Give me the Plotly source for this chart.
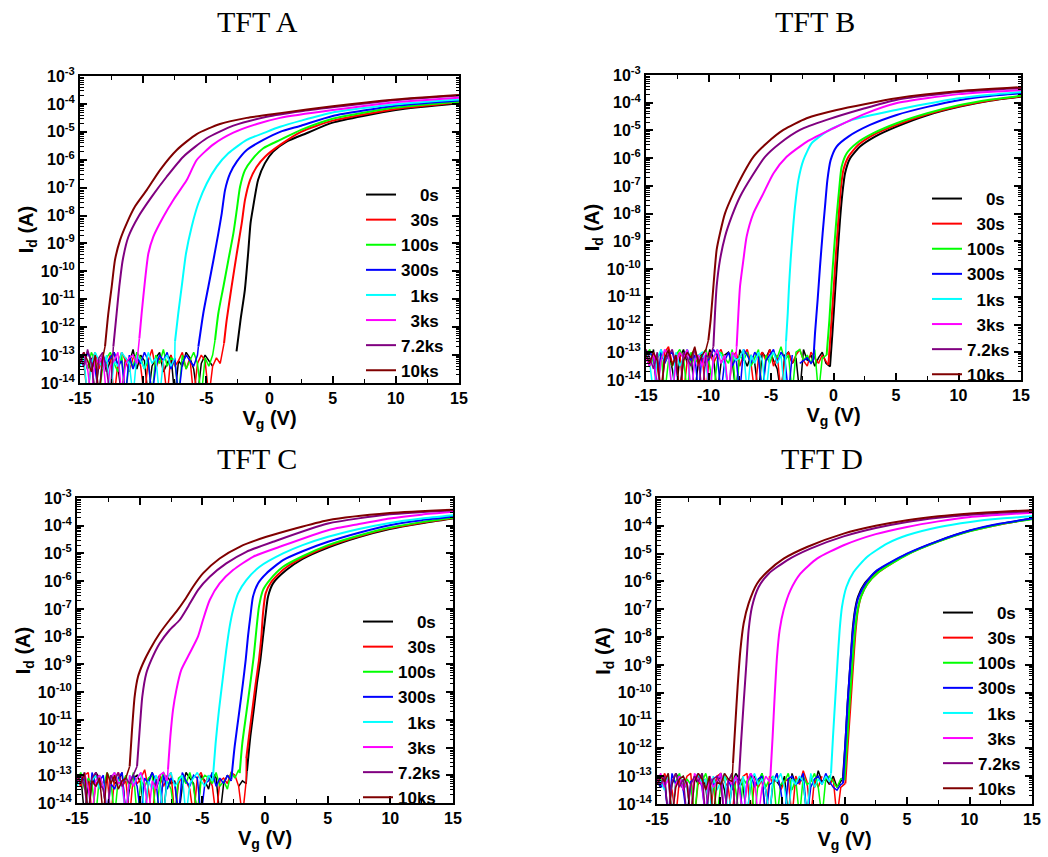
import plotly.graph_objects as go

# Bias-stress transfer curves (Id-Vg) of four TFTs, log10(Id) in A
LABELS = ["0s", "30s", "100s", "300s", "1ks", "3ks", "7.2ks", "10ks"]
COLORS = ["#000000", "#FF0000", "#00FF00", "#0000FF", "#00FFFF", "#FF00FF", "#800080", "#800000"]
TITLES = ["TFT A", "TFT B", "TFT C", "TFT D"]

# off-state sweep: first point at -15 V, 0.3 V per step, values are log10(Id)
NOISE_START = -15.0
NOISE_STEP = 0.3

# ---------------- TFT A ----------------
A_VG = [
    [-2.61, -2.29, -1.95, -1.69, -1.5, -1.29, -0.9, -0.37, 0.29, 1.35, 2.93, 5, 10, 15],
    [-3.6, -3.39, -3.0, -2.59, -2.2, -1.94, -1.54, -1.01, -0.35, 0.84, 2.5, 5, 10, 15],
    [-4.31, -4.05, -3.65, -3.26, -2.86, -2.59, -2.33, -1.94, -1.41, -0.49, 0.84, 2.5, 5, 10, 15],
    [-5.63, -5.24, -4.84, -4.44, -4.05, -3.78, -3.52, -3.12, -2.59, -1.8, -0.49, 0.84, 2.5, 5, 10, 15],
    [-7.48, -7.22, -6.95, -6.61, -6.16, -5.63, -4.97, -4.18, -3.26, -1.8, -0.22, 0.84, 2.5, 5, 10, 15],
    [-10.3, -10.12, -9.85, -9.59, -9.2, -8.4, -7.61, -6.55, -5.76, -4.44, -2.86, -1.0, 0.84, 5, 10, 15],
    [-12.36, -12.1, -11.89, -11.62, -11.17, -10.38, -9.33, -8.14, -6.82, -4.97, -2.86, -0.22, 2.5, 5, 10, 15],
    [-13.02, -12.76, -12.49, -12.23, -11.83, -11.3, -10.65, -9.72, -8.67, -7.34, -5.76, -3.92, -1.8, 0.84, 5, 10, 15],
]
A_LOG = [
    [-12.87, -11.73, -10.66, -9.35, -8.27, -7.68, -6.72, -6.13, -5.71, -5.35, -5.05, -4.67, -4.22, -3.98],
    [-12.58, -11.75, -10.55, -9.36, -8.28, -7.44, -6.73, -6.25, -5.89, -5.47, -5.0, -4.6, -4.18, -3.95],
    [-12.46, -11.5, -10.55, -9.6, -8.64, -7.8, -6.97, -6.37, -6.01, -5.59, -5.29, -4.93, -4.53, -4.13, -3.92],
    [-12.7, -11.5, -10.55, -9.6, -8.64, -7.92, -7.09, -6.49, -6.07, -5.65, -5.29, -5.0, -4.78, -4.43, -4.07, -3.88],
    [-12.52, -11.5, -10.55, -9.36, -8.4, -7.56, -6.85, -6.25, -5.77, -5.29, -5.0, -4.82, -4.6, -4.31, -4.01, -3.84],
    [-12.4, -11.5, -10.31, -9.36, -8.76, -8.04, -7.44, -6.73, -6.01, -5.45, -5.03, -4.72, -4.5, -4.22, -3.94, -3.78],
    [-12.7, -11.5, -10.55, -9.6, -8.76, -8.04, -7.33, -6.61, -5.89, -5.23, -4.78, -4.46, -4.26, -4.12, -3.86, -3.7],
    [-12.7, -11.51, -10.55, -9.59, -8.88, -8.28, -7.68, -7.09, -6.37, -5.65, -5.08, -4.72, -4.5, -4.33, -4.08, -3.84, -3.68],
]
A_NOISE = [
    [-13.2, -12.9, -13.5, -13.1, -14.5, -13.3, -13.0, -13.6, -13.2, -12.9, -13.4, -14.5, -13.1, -13.3, -12.8, -13.5, -13.0, -13.2, -14.5,
     -13.4, -13.1, -12.9, -13.6, -13.3, -13.0, -14.5, -13.2, -13.4, -12.9, -13.1, -13.5, -14.5, -13.3, -13.0, -13.2, -13.4, None],
    [-13.0, -13.3, -14.5, -13.2, -12.9, -13.5, -13.1, -13.4, -13.0, -14.5, -13.3, -12.9, -13.2, -13.6, -13.1, -13.0, -13.4, -14.5, -13.2,
     -12.8, -13.5, -13.1, -13.3, -14.5, -13.0, -13.4, -13.2, -12.9, -13.5, -13.1, -14.5, -13.3, -13.0, -13.2, -14.5, -13.4, -13.1, -13.3],
    [-13.3, -13.0, -13.5, -12.9, -13.2, -14.5, -13.4, -13.1, -12.9, -13.3, -13.6, -13.0, -14.5, -13.2, -13.4, -12.9, -13.1, -13.5,
     -13.2, -14.5, -13.0, -13.3, -12.8, -13.4, -13.1, -13.2, -14.5, -13.0, -13.5, -13.2, -12.9, -13.3, -14.5, -13.1, -13.4, -13.0],
    [-13.1, -13.4, -12.9, -13.2, -13.5, -14.5, -13.0, -13.3, -13.1, -12.9, -13.4, -13.2, -14.5, -13.0, -13.5, -13.1, -13.3, -12.9,
     -13.2, -14.5, -13.4, -13.0, -13.2, -12.9, -13.5, -13.1, -14.5, -13.3, -13.0, -13.2, -13.4, -13.0],
    [-13.4, -13.1, -14.5, -13.3, -12.9, -13.2, -13.5, -13.0, -14.5, -13.2, -13.4, -12.9, -13.1, -13.3, -14.5, -13.0, -13.2, -13.5,
     -12.9, -13.3, -13.1, -14.5, -13.2, -13.0, -13.4, -13.1],
    [-13.2, -12.9, -13.5, -14.5, -13.1, -13.3, -13.0, -14.5, -13.4, -13.2, -12.9, -14.5, -13.3, -13.1, -13.0, -13.3],
    [-13.0, -13.4, -12.8, -13.3, -14.5, -13.1, -12.9, -13.5, -14.5],
    [-13.3, -12.9, -13.2, -13.6, -13.0, -14.5, -13.1],
]

# ---------------- TFT B ----------------
B_VG = [
    [-0.28, -0.09, 0.12, 0.33, 0.52, 0.71, 0.92, 1.32, 2.12, 3.32, 5.05, 7.5, 10.12, 12.5, 15],
    [-0.41, -0.23, -0.01, 0.2, 0.39, 0.57, 0.79, 1.19, 1.99, 3.19, 5.05, 7.5, 10.12, 12.5, 15],
    [-0.55, -0.33, -0.15, 0.04, 0.25, 0.47, 0.65, 1.05, 1.85, 3.19, 5.05, 7.5, 10.12, 12.5, 15],
    [-1.61, -1.48, -1.27, -1.08, -0.87, -0.68, -0.49, -0.23, 0.25, 1.19, 2.92, 5.05, 7.5, 10.12, 12.5, 15],
    [-3.8, -3.66, -3.56, -3.43, -3.27, -3.08, -2.81, -2.41, -1.74, -0.55, 1.5, 5, 7.5, 10, 12.5, 15],
    [-7.75, -7.61, -7.48, -7.21, -6.95, -6.41, -5.61, -4.81, -3.75, -2.15, -0.01, 2.5, 5, 10, 15],
    [-9.61, -9.48, -9.35, -9.08, -8.68, -8.15, -7.48, -6.55, -5.48, -4.28, -2.68, -0.55, 2.5, 5, 10, 15],
    [-10.01, -9.83, -9.61, -9.35, -9.08, -8.68, -8.01, -7.21, -6.41, -5.35, -4.01, -2.15, 0.25, 5.05, 10.12, 15],
]
B_LOG = [
    [-13.52, -12.32, -10.87, -9.43, -8.23, -7.27, -6.55, -6.01, -5.58, -5.22, -4.86, -4.45, -4.14, -3.93, -3.78],
    [-13.46, -12.32, -10.87, -9.43, -8.23, -7.15, -6.43, -5.95, -5.52, -5.16, -4.8, -4.42, -4.12, -3.92, -3.77],
    [-13.1, -11.84, -10.51, -9.31, -8.11, -7.03, -6.31, -5.83, -5.46, -5.1, -4.74, -4.38, -4.08, -3.89, -3.75],
    [-13.28, -12.32, -11.11, -9.91, -8.71, -7.75, -6.79, -6.07, -5.58, -5.22, -4.8, -4.44, -4.15, -3.9, -3.76, -3.66],
    [-12.62, -11.59, -10.63, -9.67, -8.71, -7.75, -6.79, -6.07, -5.46, -5.04, -4.62, -4.26, -4.04, -3.84, -3.71, -3.61],
    [-12.8, -11.59, -10.63, -9.67, -8.83, -7.99, -7.27, -6.55, -5.95, -5.41, -4.92, -4.4, -4.02, -3.69, -3.54],
    [-12.8, -11.59, -10.63, -9.67, -8.83, -8.11, -7.39, -6.67, -5.95, -5.46, -4.98, -4.62, -4.2, -3.9, -3.61, -3.47],
    [-12.56, -11.84, -10.63, -9.31, -8.71, -7.99, -7.27, -6.55, -5.95, -5.46, -4.98, -4.56, -4.26, -3.84, -3.58, -3.44],
]
B_NOISE = [
    [-13.2, -13.5, -12.9, -14.5, -13.1, -13.3, -13.0, -13.6, -14.5, -13.2, -12.9, -13.4, -13.1, -14.5, -13.3, -13.0, -13.5, -12.9,
     -13.2, -14.5, -13.4, -13.1, -13.0, -13.3, -14.5, -12.9, -13.2, -13.5, -13.1, -13.4, -14.5, -13.0, -13.2, -12.9, -13.3, -13.6,
     -14.5, -13.1, -13.0, -13.4, -13.2, -14.5, -12.9, -13.3, -13.1, -13.5, -13.2, -13.0, -13.4],
    [-12.9, -13.3, -13.1, -13.5, -14.5, -13.0, -12.8, -13.4, -13.2, -13.0, -14.5, -13.3, -13.1, -12.9, -13.5, -13.2, -14.5, -13.0,
     -13.4, -13.1, -12.9, -13.3, -14.5, -13.2, -13.0, -13.5, -13.1, -12.9, -13.4, -14.5, -13.2, -13.0, -13.3, -12.9, -13.5, -13.1,
     -14.5, -13.2, -13.0, -13.4, -13.1, -12.9, -13.3, -13.5, -13.0, -13.2, -13.4, -13.1, -13.3],
    [-13.1, -12.9, -13.4, -13.2, -13.0, -14.5, -13.3, -13.5, -13.1, -12.9, -13.2, -14.5, -13.0, -13.4, -13.2, -13.1, -12.9, -13.5,
     -14.5, -13.3, -13.0, -13.2, -13.4, -12.9, -14.5, -13.1, -13.3, -13.0, -13.5, -13.2, -12.9, -14.5, -13.1, -13.4, -13.0, -13.2,
     -12.8, -13.3, -13.1, -14.5, -13.0, -12.9, -13.3, -13.1, -13.4, -12.9, -14.5, -13.2],
    [-13.3, -13.0, -13.2, -14.5, -12.9, -13.4, -13.1, -13.0, -13.5, -14.5, -13.2, -12.9, -13.3, -13.1, -14.5, -13.0, -13.4, -13.2,
     -12.9, -13.1, -14.5, -13.3, -13.0, -13.5, -13.2, -14.5, -12.9, -13.1, -13.4, -13.0, -13.2, -14.5, -13.3, -13.1, -12.9, -13.4,
     -13.0, -13.2, -14.5, -13.1, None, -13.4, -13.3, -13.2, -13.4],
    [-13.0, -13.4, -14.5, -13.2, -12.9, -13.3, -13.1, -14.5, -13.0, -13.5, -13.2, -12.9, -14.5, -13.3, -13.1, -13.0, -13.4, -14.5,
     -13.2, -12.9, -13.1, -13.5, -14.5, -13.0, -13.3, -13.2, -12.9, -14.5, -13.1, -13.4, -13.0, -13.3, -14.5, -13.2, -13.0, -13.4,
     -13.1, -14.5],
    [-13.2, -13.5, -13.0, -14.5, -13.3, -12.9, -13.1, -14.5, -13.4, -13.0, -13.2, -12.9, -14.5, -13.3, -13.1, -13.5, -13.0, -14.5,
     -13.2, -12.9, -13.4, -13.1, -14.5, -13.0, -13.2],
    [-12.9, -13.2, -13.6, -13.0, -14.5, -13.3, -13.1, -12.9, -13.4, -14.5, -13.0, -13.2, -13.5, -12.9, -13.3, -14.5, -13.1, -13.2],
    [-13.1, -13.4, -13.0, -13.3, -14.5, -13.2, -12.9, -13.5, -13.1, -14.5, -13.3, -13.0, -13.2, -12.8, -13.4, -13.1, -12.9],
]

# ---------------- TFT C ----------------
C_VG = [
    [-1.44, -1.17, -0.9, -0.64, -0.37, -0.16, 0.03, 0.24, 0.64, 1.7, 3.0, 5.03, 7.5, 9.95, 12.5, 15],
    [-1.49, -1.28, -1.01, -0.74, -0.48, -0.29, -0.16, 0.05, 0.51, 1.57, 3.0, 5.03, 7.5, 9.95, 12.5, 15],
    [-2.02, -1.81, -1.49, -1.17, -0.9, -0.69, -0.48, -0.16, 0.37, 1.44, 3.0, 5.03, 7.5, 9.95, 12.5, 15],
    [-2.69, -2.42, -2.07, -1.76, -1.54, -1.36, -1.17, -0.96, -0.56, 0.11, 1.44, 3.0, 5.03, 7.5, 9.95, 12.5, 15],
    [-4.15, -3.94, -3.67, -3.35, -3.09, -2.82, -2.55, -2.15, -1.49, -0.43, 1.44, 3.0, 5.03, 7.5, 9.95, 12.5, 15],
    [-7.74, -7.55, -7.34, -7.07, -6.68, -6.01, -5.35, -4.95, -4.41, -3.62, -2.55, -0.96, 1.17, 5.03, 7.5, 9.95, 12.5, 15],
    [-10.21, -10.0, -9.79, -9.47, -9.07, -8.4, -7.61, -6.81, -6.14, -5.35, -4.41, -3.09, -1.49, 0.64, 5.03, 9.95, 15],
    [-10.8, -10.61, -10.4, -10.13, -9.73, -9.2, -8.4, -7.61, -7.07, -6.41, -5.74, -4.95, -3.62, -2.02, 0.11, 5.03, 9.95, 15],
]
C_LOG = [
    [-12.86, -11.6, -10.64, -9.68, -8.84, -8.0, -7.28, -6.56, -6.08, -5.6, -5.2, -4.79, -4.41, -4.12, -3.91, -3.74],
    [-12.38, -11.6, -10.64, -9.68, -8.84, -8.0, -7.16, -6.44, -6.02, -5.54, -5.15, -4.74, -4.38, -4.09, -3.89, -3.72],
    [-12.92, -11.84, -10.76, -9.68, -8.72, -7.76, -6.92, -6.32, -5.96, -5.48, -5.1, -4.7, -4.35, -4.07, -3.87, -3.71],
    [-13.16, -11.96, -10.76, -9.68, -8.84, -8.0, -7.28, -6.56, -6.08, -5.72, -5.24, -4.92, -4.58, -4.25, -3.98, -3.8, -3.68],
    [-13.04, -11.84, -10.64, -9.44, -8.48, -7.64, -7.04, -6.44, -5.96, -5.48, -5.0, -4.7, -4.4, -4.12, -3.9, -3.74, -3.62],
    [-12.8, -11.6, -10.64, -9.92, -9.2, -8.6, -8.0, -7.4, -6.68, -6.08, -5.6, -5.12, -4.76, -4.16, -3.94, -3.74, -3.6, -3.5],
    [-12.68, -11.36, -10.16, -9.32, -8.84, -8.24, -7.76, -7.4, -6.92, -6.32, -5.84, -5.36, -4.94, -4.58, -3.92, -3.59, -3.44],
    [-12.68, -11.36, -10.16, -9.44, -8.96, -8.48, -7.88, -7.4, -7.1, -6.68, -6.2, -5.72, -5.18, -4.76, -4.4, -3.8, -3.54, -3.42],
]
C_NOISE = [
    [-13.3, -13.0, -14.5, -13.2, -13.4, -12.9, -13.1, -13.5, -14.5, -13.0, -13.3, -13.2, -12.9, -14.5, -13.4, -13.1, -13.0, -13.3,
     -14.5, -13.2, -12.9, -13.5, -13.1, -14.5, -13.0, -13.3, -13.2, -14.5, -13.4, -12.9, -13.1, -13.3, -14.5, -13.0, -13.2, -13.5,
     -12.9, -13.1, -14.5, -13.3, -13.0, -13.2, None, -13.4, -13.2, -13.3],
    [-13.1, -13.4, -13.0, -12.9, -14.5, -13.3, -13.2, -13.5, -13.0, -14.5, -13.1, -12.9, -13.4, -13.2, -14.5, -13.0, -13.3, -13.1,
     -12.8, -13.5, -14.5, -13.2, -13.0, -13.4, -13.1, -12.9, -14.5, -13.3, -13.0, -13.2, -13.5, -14.5, -13.1, -12.9, -13.3, -13.0,
     -13.4, -14.5, -13.2, -13.1, -13.3, -12.9, -13.0, -13.4, -14.5, -13.2],
    [-13.2, -12.9, -13.5, -13.1, -13.3, -14.5, -13.0, -13.4, -12.9, -13.2, -14.5, -13.1, -13.3, -13.0, -13.5, -12.9, -14.5, -13.2,
     -13.4, -13.1, -13.0, -14.5, -13.3, -12.9, -13.2, -13.5, -14.5, -13.1, -13.0, -13.3, -12.9, -13.4, -14.5, -13.2, -13.0, -13.1,
     -13.3, -12.9, -13.4, -13.2, -13.5, -12.9, -13.1, -12.8],
    [-13.0, -13.3, -13.1, -14.5, -12.9, -13.4, -13.2, -13.0, -14.5, -13.3, -13.5, -13.1, -12.9, -14.5, -13.2, -13.0, -13.4, -14.5,
     -13.1, -13.3, -12.9, -13.2, -14.5, -13.0, -13.5, -13.1, -13.3, -14.5, -12.9, -13.2, -13.4, -13.0, -13.1, -14.5, -13.3, -13.2,
     -12.9, -13.4, -13.1, -13.3, -13.0, -13.2],
    [-13.4, -13.1, -12.9, -14.5, -13.2, -13.0, -13.5, -13.3, -14.5, -13.1, -12.9, -13.2, -13.4, -14.5, -13.0, -13.3, -13.1, -12.9,
     -14.5, -13.2, -13.5, -13.0, -13.3, -14.5, -13.1, -12.9, -13.4, -13.2, -13.0, -14.5, -13.3, -13.1, -12.9, -13.2, -13.4, -13.0,
     -13.2],
    [-13.1, -13.3, -12.9, -13.5, -14.5, -13.2, -13.0, -13.4, -14.5, -13.1, -12.9, -13.3, -13.2, -14.5, -13.0, -13.4, -13.1, -12.9,
     -13.3, -14.5, -13.2, -13.5, -13.0, -12.9, -13.2],
    [-13.2, -13.0, -13.4, -14.5, -13.1, -12.9, -13.3, -13.5, -14.5, -13.0, -13.2, -12.9, -13.4, -13.1, -13.3, -13.0],
    [-13.0, -13.3, -12.9, -14.5, -13.2, -13.4, -13.1, -14.5, -12.9, -13.3, -13.0, -13.5, -13.2, -13.1],
]

# ---------------- TFT D ----------------
D_VG = [
    [-0.12, 0.07, 0.25, 0.47, 0.65, 0.84, 1.08, 1.61, 2.6, 5, 7.5, 10.07, 12.5, 15],
    [0.07, 0.25, 0.47, 0.68, 0.87, 1.05, 1.32, 1.8, 2.73, 5, 7.5, 10.07, 12.5, 15],
    [0.0, 0.2, 0.41, 0.63, 0.84, 1.05, 1.32, 1.8, 2.73, 5, 7.5, 10.07, 12.5, 15],
    [-0.12, 0.07, 0.25, 0.47, 0.68, 0.87, 1.13, 1.67, 2.6, 5, 7.5, 10.07, 12.5, 15],
    [-1.08, -0.92, -0.73, -0.55, -0.39, -0.2, 0.15, 0.73, 1.8, 3.4, 5, 7.5, 10.07, 12.5, 15],
    [-5.93, -5.75, -5.59, -5.4, -5.19, -4.87, -4.33, -3.53, -2.2, -0.07, 2.5, 5, 7.5, 10.07, 12.5, 15],
    [-8.47, -8.28, -8.07, -7.85, -7.67, -7.4, -6.87, -6.07, -4.6, -2.73, -0.07, 2.5, 5, 7.5, 10.07, 12.5, 15],
    [-8.92, -8.73, -8.55, -8.33, -8.07, -7.67, -7.0, -6.2, -4.87, -3.0, -0.07, 2.5, 5, 7.5, 10.07, 12.5, 15],
]
D_LOG = [
    [-13.02, -11.82, -10.38, -8.95, -7.75, -7.03, -6.55, -6.08, -5.62, -5.02, -4.55, -4.17, -3.93, -3.75],
    [-13.26, -11.94, -10.5, -9.07, -7.87, -7.09, -6.55, -6.11, -5.66, -5.03, -4.56, -4.18, -3.94, -3.75],
    [-13.14, -11.82, -10.38, -8.95, -7.75, -7.03, -6.55, -6.11, -5.66, -5.04, -4.57, -4.19, -3.94, -3.76],
    [-13.26, -11.82, -10.38, -8.95, -7.75, -7.03, -6.55, -6.08, -5.6, -5.0, -4.54, -4.16, -3.92, -3.74],
    [-12.9, -11.58, -10.15, -8.83, -7.75, -6.91, -6.2, -5.66, -5.12, -4.64, -4.34, -4.05, -3.86, -3.74, -3.66],
    [-13.02, -11.58, -10.15, -8.71, -7.75, -7.03, -6.32, -5.72, -5.18, -4.7, -4.3, -4.04, -3.84, -3.68, -3.6, -3.53],
    [-13.26, -11.82, -10.38, -8.95, -7.75, -6.91, -6.2, -5.72, -5.24, -4.82, -4.38, -4.08, -3.86, -3.71, -3.6, -3.53, -3.48],
    [-12.54, -11.1, -9.79, -8.47, -7.51, -6.79, -6.08, -5.66, -5.18, -4.76, -4.28, -4.0, -3.8, -3.66, -3.56, -3.49, -3.44],
]
D_NOISE = [
    [-13.2, -13.4, -13.0, -14.5, -13.3, -12.9, -13.1, -13.5, -13.2, -14.5, -13.0, -13.3, -12.9, -13.4, -14.5, -13.1, -13.2, -13.0,
     -13.5, -14.5, -13.3, -12.9, -13.1, -13.4, -14.5, -13.2, -13.0, -13.3, -12.9, -13.5, -14.5, -13.1, -13.2, -13.4, -13.0, -14.5,
     -12.9, -13.3, -13.1, -13.2, -14.5, -13.0, -13.4, -12.8, -13.2, -13.1, -13.3, -13.0, -13.4, -13.2],
    [-13.0, -13.3, -12.9, -13.2, -13.5, -14.5, -13.1, -13.4, -13.0, -12.9, -14.5, -13.2, -13.3, -13.1, -14.5, -13.5, -13.0, -12.9,
     -13.2, -13.4, -14.5, -13.1, -13.3, -13.0, -12.9, -14.5, -13.2, -13.4, -13.1, -14.5, -13.0, -13.3, -12.9, -13.5, -13.2, -13.1,
     -14.5, -13.0, -13.3, -12.8, -13.2, -14.5, -13.1, -13.4, -13.0, None, -13.3, -13.1, -14.5, -13.4],
    [-13.3, -13.1, -13.4, -13.0, -14.5, -13.2, -12.9, -13.5, -13.1, -13.3, -14.5, -13.0, -13.2, -12.9, -13.4, -13.1, -14.5, -13.3,
     -13.0, -13.2, -12.9, -13.5, -14.5, -13.1, -13.3, -13.0, -14.5, -13.2, -12.9, -13.4, -13.1, -13.0, -14.5, -13.3, -13.2, -12.9,
     -13.5, -13.1, -14.5, -13.0, -13.3, -13.2, -12.9, -13.4, -14.5, -13.1, -13.0, -13.2, -13.4, -13.1],
    [-13.1, -13.4, -13.2, -14.5, -12.9, -13.3, -13.0, -13.5, -14.5, -13.2, -13.1, -12.9, -13.4, -14.5, -13.0, -13.3, -13.2, -12.9,
     -14.5, -13.1, -13.5, -13.0, -13.3, -14.5, -13.2, -12.9, -13.4, -13.1, -13.0, -14.5, -13.3, -13.2, -12.9, -13.5, -14.5, -13.1,
     -13.0, -13.3, -13.2, -12.9, -14.5, -13.4, -13.1, -13.0, -13.3, -12.9, -13.2, -13.4, -13.5, -13.3],
    [-13.0, -13.2, -13.5, -12.9, -14.5, -13.3, -13.1, -13.0, -13.4, -14.5, -13.2, -12.9, -13.3, -13.1, -14.5, -13.0, -13.5, -13.2,
     -12.9, -14.5, -13.3, -13.1, -13.4, -13.0, -14.5, -13.2, -12.9, -13.3, -13.1, -13.5, -14.5, -13.0, -13.2, -12.9, -13.4, -14.5,
     -13.1, -13.3, -13.0, -13.2, -14.5, -12.9, -13.4, -13.1, -13.3, -13.0, -13.2],
    [-13.2, -12.9, -13.4, -13.1, -14.5, -13.3, -13.0, -13.5, -13.2, -14.5, -12.9, -13.1, -13.3, -14.5, -13.0, -13.4, -13.2, -12.9,
     -14.5, -13.1, -13.3, -13.0, -13.5, -14.5, -13.2, -12.9, -13.1, -14.5, -13.4, -13.0, -13.2],
    [-13.1, -13.3, -13.0, -14.5, -13.2, -12.9, -13.4, -13.1, -14.5, -13.3, -13.0, -13.2, -12.9, -14.5, -13.4, -13.1, -13.0, -13.3,
     -14.5, -13.2, -12.9, -14.5],
    [-13.3, -13.0, -13.2, -12.9, -14.5, -13.4, -13.1, -13.0, -13.3, -14.5, -13.2, -12.9, -13.1, -13.5, -13.0, -14.5, -13.2, -13.3,
     -12.9, -13.1, -13.2],
]

PANELS = [(A_VG, A_LOG, A_NOISE), (B_VG, B_LOG, B_NOISE), (C_VG, C_LOG, C_NOISE), (D_VG, D_LOG, D_NOISE)]

W, H = 1048, 857
# plot-area boxes in pixels: left, right, top, bottom
BOXES = [(80, 459, 76, 383), (646, 1021, 75, 380), (77, 453, 498, 803), (657, 1032, 498, 804)]
TITLE_POS = [(257, 22), (815, 22), (257, 458), (822, 458)]
# legend top offset below each plot top, in pixels
LEGEND_DROP = [101, 106, 106, 97]

SANS = "Liberation Sans, Arial, sans-serif"
SERIF = "Liberation Serif, Times New Roman, serif"

fig = go.Figure()

for k, (vg_sets, log_sets, noise_sets) in enumerate(PANELS):
    sfx = "" if k == 0 else str(k + 1)
    xa, ya, lg = "x" + sfx, "y" + sfx, "legend" + sfx
    for i, (lab, col) in enumerate(zip(LABELS, COLORS)):
        vg, lgi, nz = vg_sets[i], log_sets[i], noise_sets[i]
        # off-state floor, joined to the first point of the turn-on branch
        nv, ni = [], []
        for j, val in enumerate(nz):
            v = NOISE_START + NOISE_STEP * j
            if v >= vg[0]:
                break
            nv.append(v)
            ni.append(None if val is None else 10 ** val)
        nv.append(vg[0])
        ni.append(10 ** lgi[0])
        fig.add_trace(go.Scatter(
            x=nv, y=ni, mode="lines", xaxis=xa, yaxis=ya,
            line=dict(color=col, width=1.5), showlegend=False,
            legendgroup=f"{k}-{lab}", hoverinfo="skip"))
        fig.add_trace(go.Scatter(
            x=vg, y=[10 ** v for v in lgi], mode="lines", xaxis=xa, yaxis=ya,
            line=dict(color=col, width=2, shape="spline", smoothing=0.6),
            name=lab.rjust(4, "\u2007"), legend=lg, legendgroup=f"{k}-{lab}"))

x_ticks = list(range(-15, 16, 5))
y_exp = list(range(-14, -2))
y_minor = [m * 10.0 ** e for e in range(-14, -3) for m in range(2, 10)]

layout = dict(
    width=W, height=H, margin=dict(l=0, r=0, t=0, b=0),
    paper_bgcolor="white", plot_bgcolor="white", showlegend=True,
    font=dict(family=SANS, color="black"),
)

annotations = []
for k, (l, r, t, b) in enumerate(BOXES):
    sfx = "" if k == 0 else str(k + 1)
    xdom = [l / W, r / W]
    ydom = [1 - b / H, 1 - t / H]
    common = dict(
        showline=True, linecolor="black", linewidth=2, mirror="ticks",
        ticks="inside", ticklen=7, tickwidth=1.5, tickcolor="black",
        showgrid=False, zeroline=False, automargin=False,
        tickfont=dict(family=SANS, size=16, color="black", weight="bold"),
    )
    layout["xaxis" + sfx] = dict(
        common, domain=xdom, anchor="y" + sfx, range=[-15, 15],
        tickmode="array", tickvals=x_ticks, ticktext=[f"{v:d}" for v in x_ticks],
        minor=dict(ticks="inside", ticklen=4, tickwidth=1.2, tickcolor="black",
                   tickmode="linear", tick0=-15, dtick=2.5),
        title=dict(text="V<sub>g</sub> (V)", standoff=2,
                   font=dict(family=SANS, size=20, color="black", weight="bold")),
    )
    layout["yaxis" + sfx] = dict(
        common, domain=ydom, anchor="x" + sfx, type="log", range=[-14, -3],
        tickmode="array", tickvals=[10.0 ** e for e in y_exp],
        ticktext=[f"10<sup>{e}</sup>" for e in y_exp],
        minor=dict(ticks="inside", ticklen=3.5, tickwidth=1, tickcolor="black",
                   tickmode="array", tickvals=y_minor),
        title=dict(text="I<sub>d</sub> (A)", standoff=2,
                   font=dict(family=SANS, size=20, color="black", weight="bold")),
    )
    layout["legend" + sfx] = dict(
        x=(l + 281) / W, y=1 - (t + LEGEND_DROP[k]) / H, xanchor="left", yanchor="top",
        bgcolor="rgba(0,0,0,0)", borderwidth=0, tracegroupgap=0,
        font=dict(family=SANS, size=17, color="black", weight="bold"),
    )
    tx, ty = TITLE_POS[k]
    annotations.append(dict(
        text=TITLES[k], x=tx / W, y=1 - ty / H, xref="paper", yref="paper",
        xanchor="center", yanchor="middle", showarrow=False,
        font=dict(family=SERIF, size=30, color="black"),
    ))
layout["annotations"] = annotations

fig.update_layout(**layout)
fig.write_html("out.html")
